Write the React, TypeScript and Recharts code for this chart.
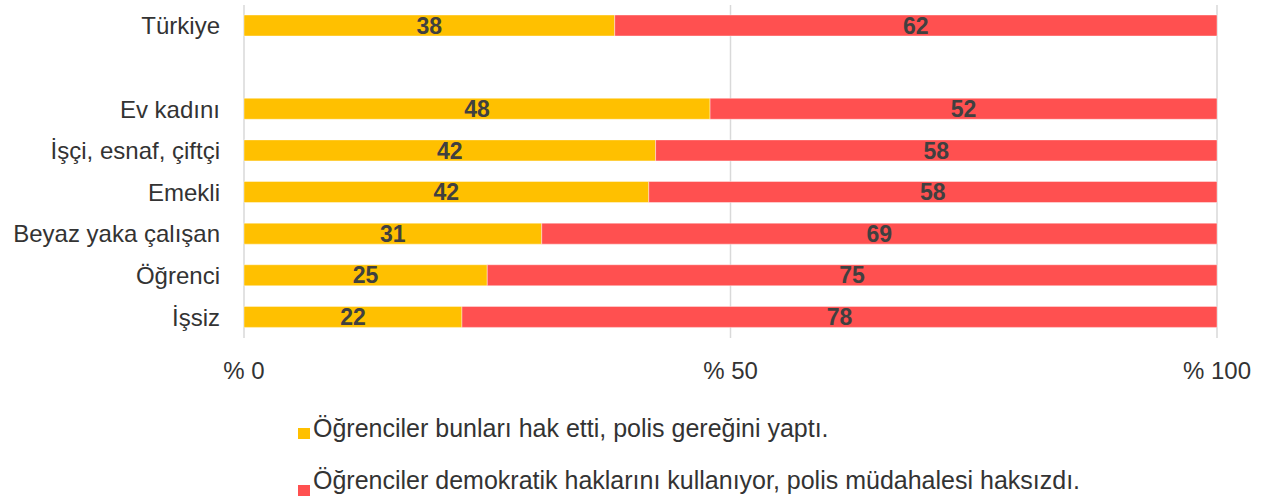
import React from 'react';
import { BarChart, Bar, XAxis, YAxis, CartesianGrid, Legend, LabelList } from 'recharts';

const categories = ['Türkiye', ' ', 'Ev kadını', 'İşçi, esnaf, çiftçi', 'Emekli', 'Beyaz yaka çalışan', 'Öğrenci', 'İşsiz'];
const deservedValues: (number | null)[] = [38.1, null, 47.9, 42.3, 41.6, 30.6, 25.0, 22.4];
const unjustValues: (number | null)[] = [61.9, null, 52.1, 57.7, 58.4, 69.4, 75.0, 77.6];
const xTicks = [0, 50, 100];
const seriesNames = [
  'Öğrenciler bunları hak etti, polis gereğini yaptı.',
  'Öğrenciler demokratik haklarını kullanıyor, polis müdahalesi haksızdı.',
];
const seriesColors = ['#FFC000', '#FF5050'];

const data = categories.map((name, i) => ({
  name,
  deserved: deservedValues[i],
  unjust: unjustValues[i],
}));

const FONT = '"Liberation Sans", Arial, sans-serif';

const fmtLabel = (v: any) => (v === null || v === undefined ? '' : String(Math.round(Number(v))));

const LegendContent = () => (
  <div style={{ position: 'relative', width: 1272, height: 100, fontFamily: FONT }}>
    {seriesNames.map((n, i) => (
      <React.Fragment key={n}>
        <div
          style={{
            position: 'absolute',
            left: 298,
            top: i === 0 ? 28 : 85,
            width: 12,
            height: 11,
            background: seriesColors[i],
          }}
        />
        <div
          style={{
            position: 'absolute',
            left: 313,
            top: i === 0 ? 14 : 66,
            fontSize: 25,
            lineHeight: '28px',
            color: '#333333',
            whiteSpace: 'nowrap',
          }}
        >
          {n}
        </div>
      </React.Fragment>
    ))}
  </div>
);

export default function App() {
  return (
    <div style={{ position: 'absolute', left: 0, top: 0, width: 1272, height: 500, background: '#fff' }}>
      <BarChart
        width={1272}
        height={500}
        data={data}
        layout="vertical"
        margin={{ top: 5, right: 55, bottom: 0, left: 0 }}
      >
        <CartesianGrid horizontal={false} vertical={true} stroke="#d9d9d9" strokeWidth={1.5} />
        <XAxis
          type="number"
          domain={[0, 100]}
          ticks={xTicks}
          tickFormatter={(v: number) => `% ${v}`}
          axisLine={false}
          tickLine={false}
          tickSize={0}
          tickMargin={24}
          height={62}
          tick={{ fontSize: 24, fill: '#333333', fontFamily: FONT }}
        />
        <YAxis
          type="category"
          dataKey="name"
          width={244}
          axisLine={false}
          tickLine={false}
          tickSize={0}
          tickMargin={24}
          interval={0}
          tick={{ fontSize: 24, fill: '#333333', fontFamily: FONT }}
        />
        <Legend
          verticalAlign="bottom"
          content={() => <LegendContent />}
          wrapperStyle={{ left: 0, top: 400, width: 1272, height: 100 }}
        />
        <Bar
          dataKey="deserved"
          name={seriesNames[0]}
          stackId="a"
          fill={seriesColors[0]}
          barSize={21}
          stroke="#ffffff"
          strokeOpacity={0.4}
          strokeWidth={1}
          isAnimationActive={false}
        >
          <LabelList
            dataKey="deserved"
            position="center"
            formatter={fmtLabel}
            style={{ fontSize: 23, fontWeight: 'bold', fill: '#404040', fontFamily: FONT }}
          />
        </Bar>
        <Bar
          dataKey="unjust"
          name={seriesNames[1]}
          stackId="a"
          fill={seriesColors[1]}
          barSize={21}
          stroke="#ffffff"
          strokeOpacity={0.4}
          strokeWidth={1}
          isAnimationActive={false}
        >
          <LabelList
            dataKey="unjust"
            position="center"
            formatter={fmtLabel}
            style={{ fontSize: 23, fontWeight: 'bold', fill: '#404040', fontFamily: FONT }}
          />
        </Bar>
      </BarChart>
    </div>
  );
}
